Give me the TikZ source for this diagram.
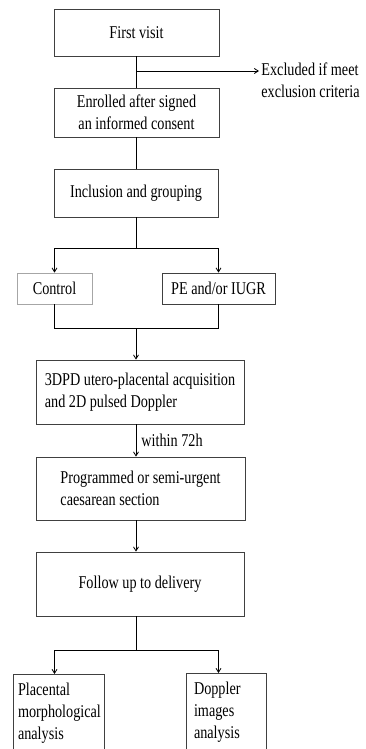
\documentclass[tikz,border=0pt]{standalone}
\usepackage{fontspec}
\setmainfont[FakeStretch=0.79]{Liberation Serif}
\usetikzlibrary{arrows.meta}

\begin{document}
\begin{tikzpicture}[x=1pt,y=-1pt,
    font=\fontsize{18}{22}\selectfont,
    line width=0.8pt,
    box/.style={draw=black!75, align=center, inner sep=4pt},
    leftbox/.style={draw=black!75, align=left, inner sep=7pt, anchor=north},
    arr/.style={-{Straight Barb[length=4pt,width=5pt]}}
]
\useasboundingbox (0,0) rectangle (365,749);
\clip (0,0) rectangle (365,749);

% Recruitment
\node[box, minimum width=165pt, minimum height=47pt] (visit) at (136.5,32.5) {First visit};
\node[box, minimum width=165pt, minimum height=49pt] (enrol) at (136.5,112.5) {Enrolled after signed\\an informed consent};
\node[box, minimum width=164pt, minimum height=48pt] (grouping) at (136,193) {Inclusion and grouping};
\node[align=left, inner sep=2pt, anchor=west] (excl) at (259,80) {Excluded if meet\\exclusion criteria};

% Groups
\node[box, draw=black!35, minimum width=75pt, minimum height=31pt] (control) at (54.5,288.5) {Control};
\node[box, minimum width=113pt, minimum height=31pt] (pe) at (218.5,288.5) {PE and/or IUGR};

% Examinations
\node[box, align=left, minimum width=208pt, minimum height=64pt] (acq) at (140,392) {3DPD utero-placental acquisition\\and 2D pulsed Doppler};
\node[box, align=left, minimum width=209pt, minimum height=63pt] (caesar) at (140.5,488.5) {Programmed or semi-urgent\\caesarean section};
\node[box, minimum width=208pt, minimum height=64pt] (follow) at (140,584) {Follow up to delivery};

% Analyses (cut off at the bottom)
\node[leftbox, inner xsep=5pt, text width=81pt, minimum height=78pt] (morph) at (58.5,674) {Placental\\morphological\\analysis};
\node[leftbox, text width=64pt, inner sep=8pt, minimum height=78pt] (doppler) at (226,673) {Doppler\\images\\analysis};

% Connectors
\coordinate (split) at (136,71);
\coordinate (top) at (136,248);
\coordinate (join) at (136,328);
\coordinate (fork) at (136,650);

\draw (visit.south -| split) -- (enrol.north -| split);
\draw[arr] (split) -- (split -| excl.west);
\draw (enrol.south -| top) -- (grouping.north -| top);
\draw (grouping.south) -- (top);
\draw[arr] (top) -| (control.north);
\draw[arr] (top) -| (pe.north);
\draw (control.south) |- (join);
\draw (pe.south) |- (join);
\draw[arr] (join) -- (join |- acq.north);
\draw[arr] (acq.south -| join) -- (caesar.north -| join) node[midway, right, inner sep=5pt] (delay) {within 72h};
\draw[arr] (caesar.south -| join) -- (follow.north -| join);
\draw (follow.south -| fork) -- (fork);
\draw[arr] (fork) -| (morph.north -| control.south);
\draw[arr] (fork) -| (doppler.north -| pe.south);

\end{tikzpicture}
\end{document}
